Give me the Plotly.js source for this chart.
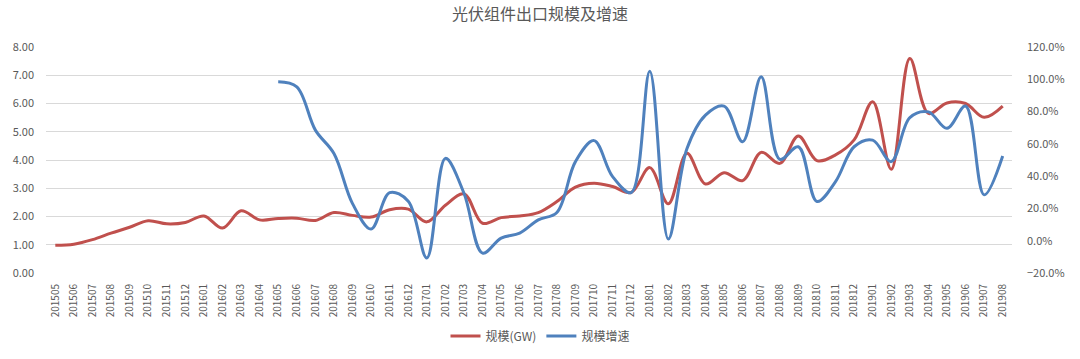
<!DOCTYPE html>
<html>
<head>
<meta charset="utf-8">
<script src="https://cdn.plot.ly/plotly-3.0.1.min.js"></script>
<style>html,body{margin:0;padding:0;background:#fff;}#chart{width:1080px;height:359px;}</style>
</head>
<body>
<div id="chart"></div>
<script>
var months = ["201505","201506","201507","201508","201509","201510","201511","201512",
"201601","201602","201603","201604","201605","201606","201607","201608","201609","201610","201611","201612",
"201701","201702","201703","201704","201705","201706","201707","201708","201709","201710","201711","201712",
"201801","201802","201803","201804","201805","201806","201807","201808","201809","201810","201811","201812",
"201901","201902","201903","201904","201905","201906","201907","201908"];

var scaleGW = [0.98,1.02,1.18,1.41,1.62,1.85,1.74,1.79,
2.02,1.59,2.20,1.88,1.93,1.94,1.86,2.14,2.04,1.98,2.24,2.26,
1.81,2.40,2.80,1.76,1.96,2.02,2.14,2.53,3.04,3.18,3.06,2.85,
3.73,2.45,4.24,3.15,3.55,3.27,4.27,3.88,4.85,3.98,4.18,4.71,
6.06,3.67,7.59,5.65,6.02,6.00,5.51,5.91];

var growth = [null,null,null,null,null,null,null,null,
null,null,null,null,0.984,0.953,0.685,0.54,0.23,0.072,0.298,0.245,
-0.107,0.51,0.294,-0.077,0.016,0.047,0.129,0.175,0.49,0.62,0.397,0.298,
1.05,0.01,0.57,0.778,0.834,0.613,1.015,0.504,0.582,0.243,0.366,0.582,
0.623,0.49,0.763,0.798,0.696,0.834,0.284,0.525];

var seriesNames = ["规模(GW)","规模增速"];

var traces = [
  {x: months, y: scaleGW, name: seriesNames[0], type: "scatter", mode: "lines",
   line: {color: "#C0504D", width: 3, shape: "spline", smoothing: 1}, yaxis: "y"},
  {x: months, y: growth, name: seriesNames[1], type: "scatter", mode: "lines",
   line: {color: "#4F81BD", width: 3, shape: "spline", smoothing: 1}, yaxis: "y2", connectgaps: false}
];

var font = "Noto Sans CJK SC, Noto Sans, sans-serif";
var layout = {
  width: 1080, height: 359,
  margin: {l: 46, r: 68, t: 47, b: 86, autoexpand: false},
  paper_bgcolor: "#fff", plot_bgcolor: "#fff",
  font: {family: font, color: "#595959", size: 11},
  title: {text: "光伏组件出口规模及增速", x: 0.5, xanchor: "center", y: 0.975, yanchor: "top",
          font: {family: font, size: 16, color: "#595959"}},
  showlegend: true,
  legend: {orientation: "h", x: 0.5, xanchor: "center", xref: "container", y: 0.064, yref: "container", yanchor: "middle",
           font: {family: font, size: 12, color: "#595959"}, traceorder: "normal"},
  xaxis: {type: "category", range: [-0.5, months.length - 0.5], tickangle: -90, tickfont: {size: 10, color: "#595959"},
          showgrid: false, zeroline: false, showline: false, ticks: "outside", ticklen: 6, tickcolor: "rgba(0,0,0,0)", automargin: false},
  yaxis: {range: [0, 8], dtick: 1, tickformat: ".2f", showgrid: true, gridcolor: "#D9D9D9",
          gridwidth: 1, zeroline: false, showline: false, ticks: "", ticklabelstandoff: 11,
          tickfont: {size: 11, color: "#595959"}, automargin: false},
  yaxis2: {range: [-0.2, 1.2], dtick: 0.2, tickformat: ".1%", overlaying: "y", side: "right",
           showgrid: false, zeroline: false, showline: false, ticks: "", ticklabelstandoff: 14,
           tickfont: {size: 11, color: "#595959"}, automargin: false}
};

Plotly.newPlot("chart", traces, layout, {displayModeBar: false, responsive: false});
</script>
</body>
</html>
